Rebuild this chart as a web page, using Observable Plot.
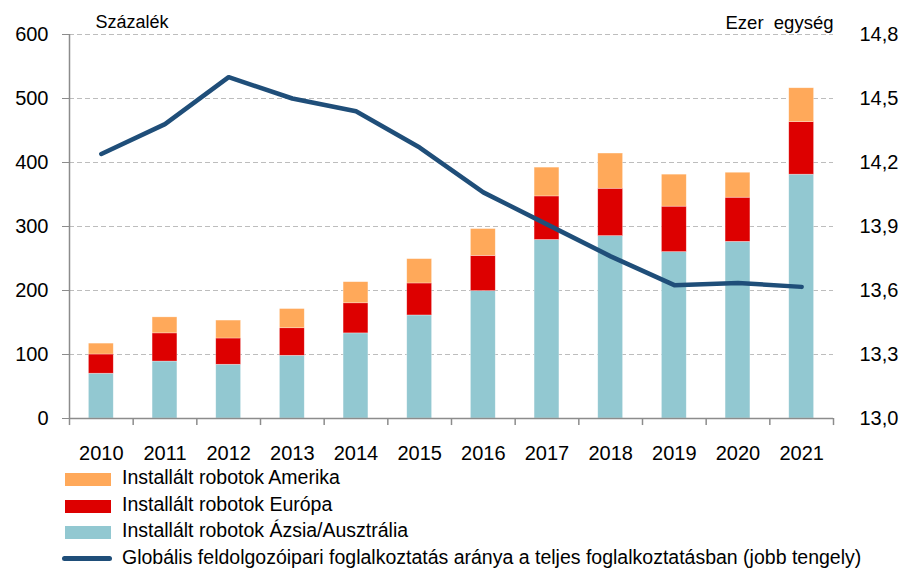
<!DOCTYPE html>
<html><head><meta charset="utf-8">
<script src="https://cdn.jsdelivr.net/npm/d3@7"></script>
<script src="https://cdn.jsdelivr.net/npm/@observablehq/plot@0.6"></script>
<style>
body{margin:0;background:#fff;font-family:"Liberation Sans",Arial,sans-serif;}
#wrap{position:relative;width:904px;height:570px;}
#legend{position:absolute;left:0;top:466px;}
.row{position:relative;height:26.5px;width:904px;}
.sw{position:absolute;left:65px;top:7px;width:46px;height:13px;}
.ln{position:absolute;left:62px;top:10px;width:50px;height:5px;border-radius:3px;background:#1F4E79;}
.lt{position:absolute;left:122px;top:0px;font-size:19.5px;color:#000;white-space:nowrap;}
</style></head><body>
<div id="wrap"><div id="chart"></div><div id="legend"></div></div>
<script>
const years = [2010,2011,2012,2013,2014,2015,2016,2017,2018,2019,2020,2021];
const asia = [70,89,84,98,133,161,199,279,285,260,276,381];
const europe = [30,44,41,43,47,50,55,68,74,71,69,82];
const america = [17,25,28,30,33,38,42,45,55,50,39,53];
const employment = [14.24,14.38,14.60,14.50,14.44,14.27,14.06,13.91,13.76,13.625,13.635,13.617];
const leftTicks = [0,100,200,300,400,500,600];
const rightTicks = [13.0,13.3,13.6,13.9,14.2,14.5,14.8];
const seriesNames = ["Installált robotok Ázsia/Ausztrália","Installált robotok Európa","Installált robotok Amerika"];
const lineName = "Globális feldolgozóipari foglalkoztatás aránya a teljes foglalkoztatásban (jobb tengely)";
const colors = ["#92C8D1","#DD0000","#FFA95A"];
const lineColor = "#1F4E79";

const R0 = 13.0, R1 = 14.8;
const toLeft = v => (v - R0) / (R1 - R0) * 600;

const bars = [];
years.forEach((y,i)=>{
  bars.push({year:y, series:seriesNames[0], value:asia[i], order:0});
  bars.push({year:y, series:seriesNames[1], value:europe[i], order:1});
  bars.push({year:y, series:seriesNames[2], value:america[i], order:2});
});
const lineData = years.map((y,i)=>({year:y, v:employment[i]}));
const bounds = d3.range(2009.5, 2022, 1);
const hw = 0.195;

const chart = Plot.plot({
  width:904, height:465,
  marginLeft:69, marginRight:71, marginTop:34, marginBottom:47,
  style:{fontFamily:"Liberation Sans, Arial, sans-serif", background:"#fff"},
  x:{type:"linear", domain:[2009.5,2021.5], axis:null, label:null},
  y:{type:"linear", domain:[0,600], axis:null, label:null},
  color:{domain:seriesNames, range:colors},
  marks:[
    Plot.ruleY(leftTicks.filter(d=>d>0), {x1:2009.5, x2:2021.5, stroke:"#BDBDBD", strokeWidth:1.2, strokeDasharray:"5,3"}),
    Plot.rectY(bars, Plot.stackY({x1:d=>d.year-hw, x2:d=>d.year+hw, y:"value", fill:"series", order:"order", stroke:"#fff", strokeOpacity:0.5, strokeWidth:0.6})),
    Plot.ruleX([2009.5], {y1:0, y2:600, stroke:"#8C8C8C", strokeWidth:1.5}),
    Plot.ruleY([0], {x1:2009.5, x2:2021.5, stroke:"#8C8C8C", strokeWidth:1.5}),
    Plot.ruleX(bounds, {x:d=>d, y1:0, y2:-11, stroke:"#8C8C8C", strokeWidth:1.5}),
    Plot.line(lineData, {x:"year", y:d=>toLeft(d.v), stroke:lineColor, strokeWidth:4.5, strokeLinejoin:"round", strokeLinecap:"round"}),
    Plot.axisY({anchor:"left", ticks:leftTicks, tickSize:7, tickPadding:14, fontSize:20, stroke:"#8C8C8C", tickFormat:d=>String(d), label:null}),
    Plot.axisY({anchor:"right", ticks:leftTicks, tickSize:0, tickPadding:26, fontSize:20, tickFormat:d=>(R0 + d/600*(R1-R0)).toFixed(1).replace(".",","), label:null}),
    Plot.axisX({ticks:years, tickSize:0, tickPadding:27, fontSize:20, tickFormat:d=>String(d), label:null}),
    Plot.text(["Százalék"], {frameAnchor:"top-left", dx:26, dy:-19, fontSize:18, textAnchor:"start", fill:"#000", style:"letter-spacing:2px"}),
    Plot.text(["Ezer  egység"], {frameAnchor:"top-right", dx:0, dy:-19, fontSize:18.5, textAnchor:"end", fill:"#000"})
  ]
});
document.getElementById("chart").appendChild(chart);

const legend = document.getElementById("legend");
const items = [
  {name:seriesNames[2], color:colors[2]},
  {name:seriesNames[1], color:colors[1]},
  {name:seriesNames[0], color:colors[0]},
  {name:lineName, line:true}
];
items.forEach(it=>{
  const row = document.createElement("div"); row.className="row";
  const s = document.createElement("div");
  if(it.line){ s.className="ln"; } else { s.className="sw"; s.style.background=it.color; }
  const t = document.createElement("div"); t.className="lt"; t.textContent=it.name;
  row.appendChild(s); row.appendChild(t); legend.appendChild(row);
});
</script>
</body></html>
